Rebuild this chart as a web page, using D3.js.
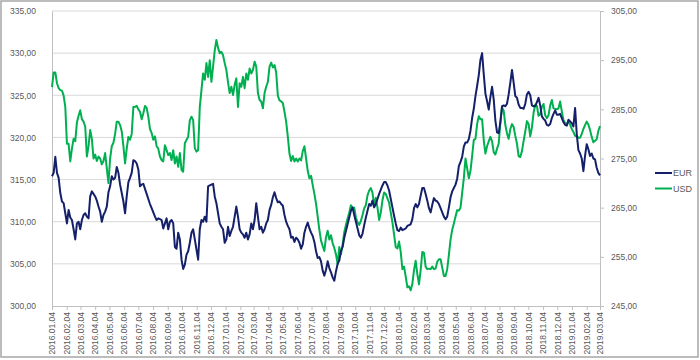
<!DOCTYPE html>
<html>
<head>
<meta charset="utf-8">
<script src="https://cdn.jsdelivr.net/npm/d3@7"></script>
<style>
  html, body { margin: 0; padding: 0; background: #fff; }
  svg { display: block; }
  text { font-family: "Liberation Sans", Arial, sans-serif; fill: #595959; }
</style>
</head>
<body>
<svg id="chart" width="700" height="360"></svg>
<script>
// ---- data ----
const firstObs = "2016.01.04";   // observations every 3.5 days (84 h)
const stepHours = 84;

const eurValues = [
315.4,315.8,317.7,315.8,315.2,313.4,312.4,312.2,311.0,309.8,
311.4,310.5,310.2,309.1,307.9,309.8,310.0,309.1,310.2,310.8,
311.0,310.6,310.4,313.0,313.6,313.3,313.0,312.5,311.8,311.2,
310.0,310.8,311.2,311.8,313.5,314.2,315.4,315.0,315.2,316.5,
315.8,314.4,313.4,312.4,311.0,313.0,314.7,315.2,315.8,317.3,
317.2,316.9,316.2,314.2,314.4,314.5,313.9,313.3,312.7,312.1,
311.6,311.1,310.6,310.2,
310.4,310.3,310.2,309.2,309.8,310.4,309.1,310.0,310.2,309.8,
307.0,306.8,308.7,307.9,305.5,304.4,304.9,306.1,306.5,307.5,
308.7,309.1,307.9,306.7,305.5,309.1,310.2,310.0,310.6,310.0,
314.2,314.3,314.4,314.5,313.0,312.2,311.0,309.8,309.4,309.1,
307.5,307.9,309.4,308.3,308.9,309.4,310.6,311.8,310.6,309.1,
308.7,308.5,308.1,308.7,307.9,308.5,309.8,309.1,310.2,312.2,
310.6,309.1,309.4,308.7,309.1,309.8,310.2,311.4,
312.0,312.9,313.5,312.8,312.3,312.4,312.1,311.9,310.8,310.0,
309.5,309.1,308.1,308.2,307.6,308.1,307.9,307.5,306.8,307.3,
308.7,309.4,309.9,309.2,308.7,308.3,307.6,306.5,305.7,305.8,
305.3,304.2,303.6,304.3,305.3,304.5,304.0,303.4,303.0,304.1,
305.0,305.4,306.5,307.0,308.1,308.9,309.7,310.5,311.3,311.7,
310.8,310.0,309.2,308.4,308.1,308.6,309.6,310.5,311.3,312.1,
311.9,312.5,311.7,312.1,312.7,313.3,
313.8,314.3,314.7,314.7,314.3,313.7,312.7,311.7,310.7,309.8,
309.0,308.9,309.3,309.0,309.1,309.2,309.5,309.6,309.7,310.3,
311.6,312.1,311.7,312.1,313.1,314.0,314.0,313.3,312.5,311.6,
311.1,312.0,312.8,312.5,312.4,312.1,311.6,311.1,310.6,310.3,
310.6,311.7,312.9,313.6,314.0,314.4,315.1,316.6,317.1,317.7,
318.9,319.4,319.4,319.8,320.8,322.3,323.4,324.9,326.1,327.4,
329.2,330.0,327.5,325.2,324.3,323.3,
324.8,326.0,324.5,322.0,320.6,320.5,321.8,323.7,323.8,323.7,
324.0,325.1,326.5,328.0,326.5,324.9,324.7,323.9,323.5,323.5,
323.4,324.0,325.1,325.4,325.0,323.8,323.7,323.7,324.2,324.7,
323.8,322.5,322.2,322.0,321.5,321.4,321.6,322.3,322.8,323.2,
322.7,322.7,322.8,322.3,321.8,321.5,321.4,322.1,321.9,321.7,
321.3,323.5,320.4,318.5,318.1,317.5,316.0,317.8,319.2,318.6,
317.8,318.1,317.5,317.4,316.4,315.8,315.5
];

const usdValues = [
289.5,292.5,292.5,290.3,289.3,288.9,288.8,287.8,285.5,278.0,
278.0,274.4,277.0,279.0,278.5,282.3,283.7,284.8,283.0,282.5,
281.5,275.4,277.5,280.8,279.0,275.0,275.8,274.5,275.4,275.0,
273.8,274.5,276.1,273.0,270.0,275.0,277.5,278.2,280.0,282.5,
282.5,281.8,280.5,277.5,274.0,277.0,279.4,278.8,280.0,285.5,
285.5,285.7,285.0,284.5,283.0,284.2,285.7,285.3,283.5,281.0,
280.2,278.8,279.5,277.5,
277.0,275.4,274.7,274.4,277.7,276.7,275.7,276.1,274.7,276.7,
274.0,275.4,273.3,276.1,272.7,272.3,278.1,278.8,279.4,282.8,
283.5,282.8,277.1,276.4,276.7,285.5,288.9,292.3,291.0,294.4,
291.6,295.0,290.6,293.7,297.0,299.1,297.5,296.4,296.7,296.0,
294.4,293.0,290.5,288.3,289.6,287.9,290.0,291.3,285.5,290.3,
289.6,291.6,289.3,292.3,291.0,293.3,292.3,293.0,294.7,293.7,
288.3,286.9,286.6,285.2,288.3,289.6,290.6,293.7,
294.5,293.5,294.0,292.5,287.8,286.8,286.6,286.3,284.5,282.5,
279.5,276.0,274.5,275.5,274.4,275.0,274.4,275.0,274.6,276.5,
277.5,275.0,272.5,271.0,271.5,269.6,267.8,265.8,263.2,260.5,
258.3,257.2,256.2,259.0,260.3,258.5,259.4,257.8,256.8,255.5,
253.5,257.0,255.5,257.5,260.0,261.5,262.8,264.0,265.5,264.8,
265.0,263.0,262.0,261.5,262.3,263.5,264.9,265.5,267.5,268.5,
269.0,268.0,265.5,267.0,265.0,262.5,
264.0,266.5,268.1,267.8,266.9,266.0,264.0,262.0,259.5,257.0,
256.7,258.1,256.0,252.5,253.0,251.0,248.8,249.0,248.2,249.5,
252.3,254.2,251.5,249.4,252.3,256.0,255.8,253.0,252.5,252.6,
252.5,253.0,252.5,252.6,254.0,254.5,254.5,252.8,251.1,251.1,
252.5,255.4,258.5,260.5,261.8,263.2,264.5,264.4,265.0,268.0,
271.0,
275.0,273.0,271.0,272.5,275.5,278.8,279.0,282.0,283.6,283.0,
283.0,278.7,276.0,277.5,278.5,279.4,278.5,276.3,275.8,277.0,
278.0,282.3,285.4,284.7,281.8,280.1,279.0,281.0,282.0,281.4,
279.6,278.0,275.5,275.3,276.5,278.6,280.5,282.6,282.0,279.5,
281.3,284.3,286.0,285.7,283.7,284.0,285.5,286.1,283.8,283.2,
283.8,285.8,286.9,285.2,285.1,285.0,285.2,286.6,284.6,282.8,
282.2,281.9,282.6,281.9,281.0,280.4,279.6,279.6,279.2,279.2,
280.0,281.0,281.8,282.5,281.9,280.8,279.4,278.3,278.6,278.9,
280.6,281.6
];

const xTickLabels = [
"2016.01.04","2016.02.04","2016.03.04","2016.04.04","2016.05.04","2016.06.04",
"2016.07.04","2016.08.04","2016.09.04","2016.10.04","2016.11.04","2016.12.04",
"2017.01.04","2017.02.04","2017.03.04","2017.04.04","2017.05.04","2017.06.04",
"2017.07.04","2017.08.04","2017.09.04","2017.10.04","2017.11.04","2017.12.04",
"2018.01.04","2018.02.04","2018.03.04","2018.04.04","2018.05.04","2018.06.04",
"2018.07.04","2018.08.04","2018.09.04","2018.10.04","2018.11.04","2018.12.04",
"2019.01.04","2019.02.04","2019.03.04"
];
const leftTicks = [300, 305, 310, 315, 320, 325, 330, 335];
const rightTicks = [245, 255, 265, 275, 285, 295, 305];
const seriesNames = ["EUR", "USD"];
const seriesColors = ["#14206a", "#00b050"];

// ---- chart ----
const parse = d3.timeParse("%Y.%m.%d");
const start = parse(firstObs);
const dates = eurValues.map((_, i) => d3.timeHour.offset(start, i * stepHours));
const tickDates = xTickLabels.map(parse);

const svg = d3.select("#chart");
const plot = { left: 52, right: 600, top: 11, bottom: 306 };

const x = d3.scaleTime()
  .domain([tickDates[0], tickDates[tickDates.length - 1]])
  .range([plot.left, plot.right]);
const yL = d3.scaleLinear().domain([300, 335]).range([plot.bottom, plot.top]);
const yR = d3.scaleLinear().domain([245, 305]).range([plot.bottom, plot.top]);

const fmt = v => d3.format(".2f")(v).replace(".", ",");

// outer chart border
svg.append("rect")
  .attr("x", 1).attr("y", 1).attr("width", 697).attr("height", 356)
  .attr("fill", "#fff").attr("stroke", "#a6a6a6").attr("stroke-width", 1.5);

// gridlines (left axis)
svg.append("g")
  .selectAll("line").data(leftTicks.slice(1)).join("line")
  .attr("x1", plot.left).attr("x2", plot.right)
  .attr("y1", d => yL(d)).attr("y2", d => yL(d))
  .attr("stroke", "#d9d9d9").attr("stroke-width", 1);

// left axis
const gL = svg.append("g").attr("transform", `translate(${plot.left},0)`)
  .call(d3.axisLeft(yL).tickValues(leftTicks).tickFormat(fmt).tickSize(0).tickPadding(16));
gL.select(".domain").attr("stroke", "#bfbfbf");
gL.selectAll("text").style("font-size", "8.5px").attr("fill", "#595959")
  .style("font-family", "'Liberation Sans', Arial, sans-serif");

// right axis
const gR = svg.append("g").attr("transform", `translate(${plot.right},0)`)
  .call(d3.axisRight(yR).tickValues(rightTicks).tickFormat(fmt).tickSize(4).tickPadding(7));
gR.select(".domain").attr("stroke", "#bfbfbf");
gR.selectAll("line").attr("stroke", "#bfbfbf");
gR.selectAll("text").style("font-size", "8.5px").attr("fill", "#595959")
  .style("font-family", "'Liberation Sans', Arial, sans-serif");

// x axis
const gX = svg.append("g").attr("transform", `translate(0,${plot.bottom})`)
  .call(d3.axisBottom(x).tickValues(tickDates).tickFormat((d, i) => xTickLabels[i]).tickSize(4).tickSizeOuter(0));
gX.select(".domain").attr("stroke", "#bfbfbf");
gX.selectAll("line").attr("stroke", "#bfbfbf");
gX.selectAll("text")
  .style("font-size", "8.5px").attr("fill", "#595959")
  .style("font-family", "'Liberation Sans', Arial, sans-serif")
  .attr("text-anchor", "end")
  .attr("transform", "rotate(-90)")
  .attr("x", -6).attr("y", 0).attr("dy", "0.32em");

// lines
const lineL = d3.line().x((d, i) => x(dates[i])).y(d => yL(d));
const lineR = d3.line().x((d, i) => x(dates[i])).y(d => yR(d));

svg.append("path").datum(usdValues)
  .attr("d", lineR).attr("fill", "none")
  .attr("stroke", seriesColors[1]).attr("stroke-width", 2)
  .attr("stroke-linejoin", "round");
svg.append("path").datum(eurValues)
  .attr("d", lineL).attr("fill", "none")
  .attr("stroke", seriesColors[0]).attr("stroke-width", 2)
  .attr("stroke-linejoin", "round");

// legend
const lg = svg.append("g").attr("transform", "translate(655,173)");
seriesNames.forEach((name, i) => {
  const g = lg.append("g").attr("transform", `translate(0,${i * 15.5})`);
  g.append("line").attr("x1", 0).attr("x2", 17).attr("y1", 0).attr("y2", 0)
    .attr("stroke", seriesColors[i]).attr("stroke-width", 2);
  g.append("text").attr("x", 18).attr("y", 0).attr("dy", "0.35em")
    .style("font-size", "9px").text(name);
});
</script>
</body>
</html>
